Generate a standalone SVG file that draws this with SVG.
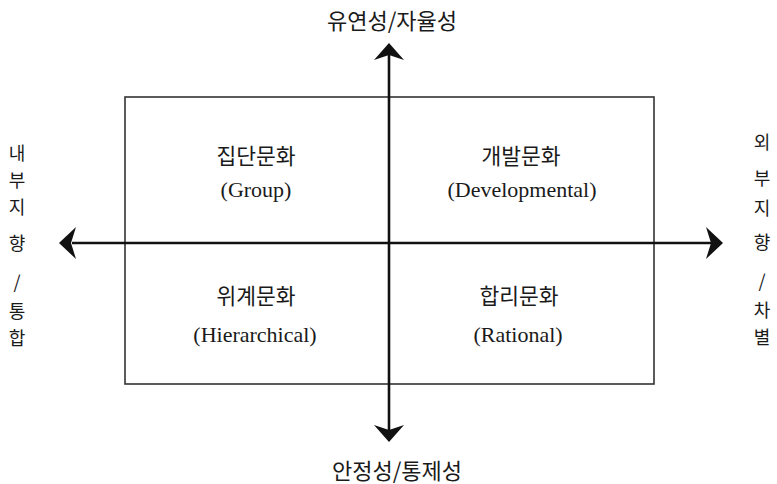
<svg xmlns="http://www.w3.org/2000/svg" width="777" height="484" viewBox="0 0 777 484">
<style>
.ax{font-family:"Noto Sans CJK KR","Noto Sans",sans-serif;font-size:22px;fill:#1a1a1a;text-anchor:middle}
.sd{font-family:"Noto Sans CJK KR","Noto Sans",sans-serif;font-size:18px;fill:#1a1a1a;text-anchor:middle}
.ko{font-family:"Noto Sans CJK KR","Noto Sans",sans-serif;font-size:21.5px;fill:#1a1a1a;text-anchor:middle}
.en{font-family:"Liberation Serif","Noto Sans CJK KR",serif;font-size:22px;fill:#1a1a1a;text-anchor:middle}
.axis{stroke:#111;stroke-width:2.6;fill:none}
.box{stroke:#333;stroke-width:1.6;fill:none}
.head{fill:#111}
</style>
<rect width="777" height="484" fill="#fff"/>
<g id="frame"><rect class="box" x="125" y="97" width="529" height="287"/></g>
<g id="connectors">
<line class="axis" x1="389" y1="55" x2="389" y2="430"/>
<line class="axis" x1="72" y1="243" x2="712" y2="243"/>
<path class="head" d="M389,43 L404,60 L389,55 L374,60 Z"/>
<path class="head" d="M389,442 L404,425 L389,430 L374,425 Z"/>
<path class="head" d="M59,243 L76,227 L71,243 L76,259 Z"/>
<path class="head" d="M723,243 L706,227 L711,243 L706,259 Z"/>
</g>
<g id="top-label"><text class="ax" x="392" y="29">유연성/자율성</text></g>
<g id="bottom-label"><text class="ax" x="397" y="479">안정성/통제성</text></g>
<g id="left-label">
<text class="sd" x="17" y="160">내</text>
<text class="sd" x="17" y="187">부</text>
<text class="sd" x="17" y="214">지</text>
<text class="sd" x="17" y="250">향</text>
<text class="sd" x="17" y="289">/</text>
<text class="sd" x="17" y="318">통</text>
<text class="sd" x="17" y="345">합</text>
</g>
<g id="right-label">
<text class="sd" x="762" y="149">외</text>
<text class="sd" x="762" y="185">부</text>
<text class="sd" x="762" y="215">지</text>
<text class="sd" x="762" y="249">향</text>
<text class="sd" x="762" y="288">/</text>
<text class="sd" x="762" y="317">차</text>
<text class="sd" x="762" y="344">별</text>
</g>
<g id="group-culture">
<text class="ko" x="256" y="164">집단문화</text>
<text class="en" x="256" y="197">(Group)</text>
</g>
<g id="developmental-culture">
<text class="ko" x="521" y="164">개발문화</text>
<text class="en" x="522" y="197">(Developmental)</text>
</g>
<g id="hierarchical-culture">
<text class="ko" x="256" y="304">위계문화</text>
<text class="en" x="255" y="342">(Hierarchical)</text>
</g>
<g id="rational-culture">
<text class="ko" x="519" y="304">합리문화</text>
<text class="en" x="518" y="342">(Rational)</text>
</g>
</svg>
